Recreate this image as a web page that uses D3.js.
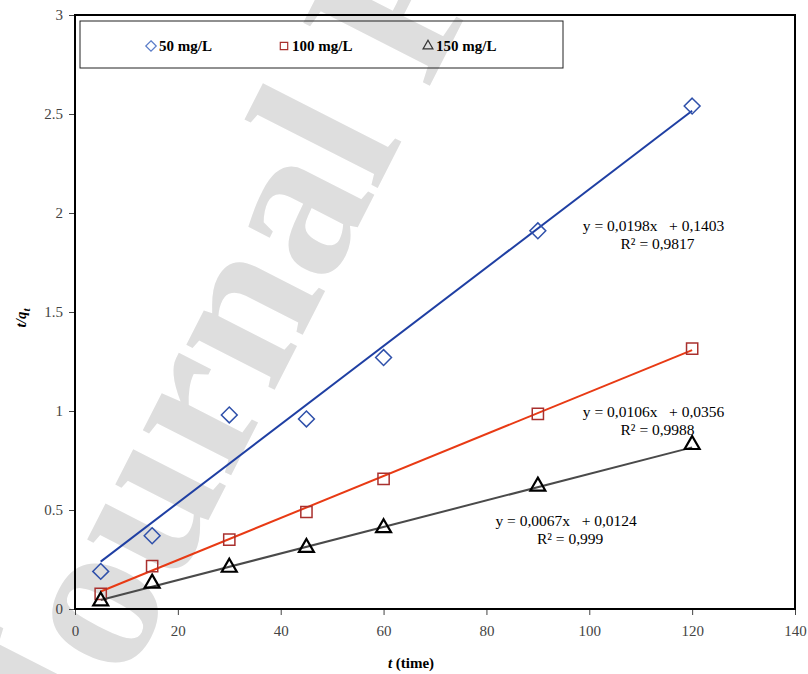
<!DOCTYPE html>
<html>
<head>
<meta charset="utf-8">
<script src="https://cdn.jsdelivr.net/npm/d3@7"></script>
<style>
  body { margin: 0; background: #fff; }
  svg { display: block; }
  .tick text { font-family: "Liberation Serif", "Times New Roman", serif; font-size: 15px; fill: #444; }
</style>
</head>
<body>
<svg width="808" height="674"></svg>
<script>
// data
const times = [5, 15, 30, 45, 60, 90, 120];
const q50  = [0.19, 0.37, 0.98, 0.96, 1.27, 1.91, 2.54];
const q100 = [0.076, 0.217, 0.35, 0.49, 0.657, 0.985, 1.315];
const q150 = [0.04, 0.13, 0.21, 0.31, 0.41, 0.62, 0.83];
const fits = [
  { slope: 0.0198, icept: 0.1403, eq: 'y = 0,0198x   + 0,1403', r2: 'R² = 0,9817' },
  { slope: 0.0106, icept: 0.0356, eq: 'y = 0,0106x   + 0,0356', r2: 'R² = 0,9988' },
  { slope: 0.0067, icept: 0.0124, eq: 'y = 0,0067x   + 0,0124', r2: 'R² = 0,999' }
];
const labels = ['50 mg/L', '100 mg/L', '150 mg/L'];
const xTicks = [0, 20, 40, 60, 80, 100, 120, 140];
const yTicks = [0, 0.5, 1, 1.5, 2, 2.5, 3];

const margin = { left: 75, right: 13, top: 15, bottom: 65 };
const width = 808 - margin.left - margin.right;
const height = 674 - margin.top - margin.bottom;
const serif = '"Liberation Serif", "Times New Roman", serif';

const svg = d3.select('svg');

// faint watermark of the preprint, underneath the chart
svg.append('text')
   .attr('transform', 'translate(76, 780) rotate(-63)')
   .attr('font-family', serif)
   .attr('font-size', 216)
   .attr('font-weight', 'bold')
   .attr('fill', '#dedede')
   .text('Journal Pre-proof');

const chart = svg.append('g')
                 .attr('transform', `translate(${margin.left}, ${margin.top})`);

const xScale = d3.scaleLinear().domain([0, 140]).range([0, width]);
const yScale = d3.scaleLinear().domain([0, 3]).range([height, 0]);

chart.append('g')
     .attr('transform', `translate(0, ${height})`)
     .call(d3.axisBottom(xScale).tickValues(xTicks).tickSize(6).tickPadding(10).tickFormat(d3.format('d')))
     .call(g => g.select('.domain').remove())
     .call(g => g.selectAll('.tick line').attr('stroke', '#444'));

chart.append('g')
     .call(d3.axisLeft(yScale).tickValues(yTicks).tickSize(6).tickPadding(6).tickFormat(d => d))
     .call(g => g.select('.domain').remove())
     .call(g => g.selectAll('.tick line').attr('stroke', '#444'));

chart.append('rect')
     .attr('width', width)
     .attr('height', height)
     .attr('fill', 'none')
     .attr('stroke', '#000')
     .attr('stroke-width', 2);

const series = [
  { vals: q50,  line: '#1f3fa3', mark: '#2f50aa', legend: '#5a7cc8', type: d3.symbolDiamond2 },
  { vals: q100, line: '#e83a14', mark: '#a9302e', legend: '#a9302e', type: d3.symbolSquare2 },
  { vals: q150, line: '#4a4a4a', mark: '#000',    legend: '#333',    type: d3.symbolTriangle2 }
];

series.forEach((s, i) => {
  const f = fits[i];
  const x0 = d3.min(times), x1 = d3.max(times);
  chart.append('line')
       .attr('x1', xScale(x0)).attr('y1', yScale(f.slope * x0 + f.icept))
       .attr('x2', xScale(x1)).attr('y2', yScale(f.slope * x1 + f.icept))
       .attr('stroke', s.line)
       .attr('stroke-width', 2);

  chart.selectAll(null)
       .data(times.map((t, j) => ({ t, v: s.vals[j] })))
       .enter()
       .append('path')
       .attr('d', d3.symbol().type(s.type).size(160)())
       .attr('transform', d => `translate(${xScale(d.t)}, ${yScale(d.v)})`)
       .attr('fill', 'none')
       .attr('stroke', s.mark)
       .attr('stroke-width', i === 2 ? 2.2 : 1.5);
});

// trendline equations, placed in data units
const eqPos = [[112.5, 1.91], [112.5, 0.97], [95.5, 0.42]];
fits.forEach((f, i) => {
  const px = xScale(eqPos[i][0]);
  const t = chart.append('text')
                 .attr('font-family', serif)
                 .attr('font-size', 15.5)
                 .attr('fill', '#000')
                 .attr('text-anchor', 'middle')
                 .style('white-space', 'pre');
  t.append('tspan').attr('x', px).attr('y', yScale(eqPos[i][1])).text(f.eq);
  t.append('tspan').attr('x', px + 4).attr('dy', 18).text(f.r2);
});

// legend
const legend = svg.append('g').attr('transform', 'translate(80, 21)');
legend.append('rect')
      .attr('width', 483).attr('height', 47)
      .attr('fill', 'none')
      .attr('stroke', '#222')
      .attr('stroke-width', 1);
const legX = [71, 204, 348];
series.forEach((s, i) => {
  legend.append('path')
        .attr('d', d3.symbol().type(s.type).size(70)())
        .attr('transform', `translate(${legX[i]}, 25)`)
        .attr('fill', 'none')
        .attr('stroke', s.legend)
        .attr('stroke-width', 1.2);
  legend.append('text')
        .attr('x', legX[i] + 8).attr('y', 30)
        .attr('font-family', serif)
        .attr('font-size', 15)
        .attr('font-weight', 'bold')
        .text(labels[i]);
});

// axis titles
const xt = svg.append('text')
              .attr('x', 411).attr('y', 668)
              .attr('text-anchor', 'middle')
              .attr('font-family', serif)
              .attr('font-size', 15)
              .attr('font-weight', 'bold');
xt.append('tspan').attr('font-style', 'italic').text('t');
xt.append('tspan').text(' (time)');

const yt = svg.append('text')
              .attr('transform', 'translate(26, 318) rotate(-90)')
              .attr('text-anchor', 'middle')
              .attr('font-family', serif)
              .attr('font-size', 15)
              .attr('font-weight', 'bold')
              .attr('font-style', 'italic');
yt.append('tspan').text('t/q');
yt.append('tspan').attr('font-size', 11).attr('dy', 4).text('t');
</script>
</body>
</html>
